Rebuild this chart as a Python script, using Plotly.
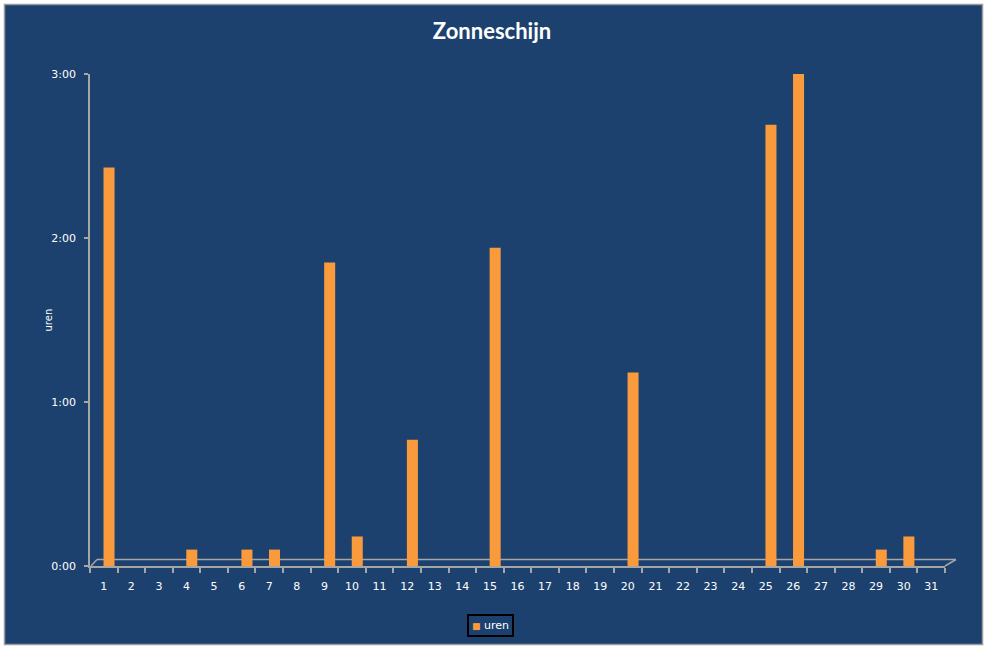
import plotly.graph_objects as go

days = [str(d) for d in range(1, 32)]
hours = [2.43, 0, 0, 0.1, 0, 0.1, 0.1, 0, 1.85, 0.18, 0, 0.77, 0, 0, 1.94,
         0, 0, 0, 0, 1.18, 0, 0, 0, 0, 2.69, 3.02, 0, 0, 0.1, 0.18, 0]
y_ticks = [0, 1, 2, 3]
y_tick_labels = ["0:00", "1:00", "2:00", "3:00"]
series_name = "uren"
title = "Zonneschijn"

BG = "#1c416e"
ORANGE = "#f99a3c"
GRAY = "#a6a6a6"

W, H = 987, 648
L, R, T, B = 90, 42, 74, 82
pw, ph = W - L - R, H - T - B

def px(xp):
    return (xp - L) / pw

def py(yp):
    return (H - B - yp) / ph

bw = 0.4
fig = go.Figure()
fig.add_trace(go.Bar(
    x=days, y=hours, name=series_name,
    width=bw, offset=-bw / 2 + 0.19,
    marker=dict(color=ORANGE, line=dict(width=0)),
    cliponaxis=False, showlegend=False,
))

shapes = [
    # outer chart border
    dict(type="rect", xref="paper", yref="paper", x0=px(4.5), x1=px(982.5),
         y0=py(644.5), y1=py(4.5), fillcolor=BG,
         line=dict(color="#9a9a9a", width=1.5), layer="below"),
    # 3D floor back edge
    dict(type="line", xref="paper", yref="paper", x0=px(97), x1=px(956),
         y0=py(559.5), y1=py(559.5), line=dict(color=GRAY, width=1.5), layer="below"),
    dict(type="line", xref="paper", yref="paper", x0=px(91), x1=px(97),
         y0=py(566), y1=py(559.5), line=dict(color=GRAY, width=1.5), layer="below"),
    dict(type="line", xref="paper", yref="paper", x0=px(945), x1=px(956),
         y0=py(566), y1=py(559.5), line=dict(color=GRAY, width=1.5), layer="below"),
]

annotations = [
    dict(text="uren", textangle=-90, xref="paper", yref="paper",
         x=px(40), y=0.5, showarrow=False,
         font=dict(family="DejaVu Sans", size=10, color="white")),
    # legend box
    dict(text='<span style="color:%s;font-size:9px">■</span> %s' % (ORANGE, series_name),
         xref="paper", yref="paper", x=px(490), y=py(625),
         xanchor="center", yanchor="middle", showarrow=False,
         bordercolor="black", borderwidth=2, borderpad=3,
         font=dict(family="DejaVu Sans", size=11, color="white")),
]

fig.update_layout(
    width=W, height=H,
    margin=dict(l=L, r=R, t=T, b=B, autoexpand=False),
    paper_bgcolor="white",
    plot_bgcolor="rgba(0,0,0,0)",
    shapes=shapes,
    annotations=annotations,
    title=dict(text="<b>" + title + "</b>", x=492 / W, xref="container", xanchor="center",
               y=1 - 31 / H, yanchor="middle",
               font=dict(family="Lato", size=22, color="white")),
    font=dict(family="DejaVu Sans", size=11, color="white"),
    showlegend=False,
)

fig.update_xaxes(
    type="category", range=[-0.5, 30.5],
    showline=True, linecolor=GRAY, linewidth=1.5,
    ticks="outside", tickson="boundaries", ticklen=5, tickcolor=GRAY, tickwidth=1.5,
    showgrid=False, zeroline=False, ticklabelstandoff=9,
    tickfont=dict(family="DejaVu Sans", size=11, color="white"),
)
fig.update_yaxes(
    range=[0, 3], tickvals=y_ticks, ticktext=y_tick_labels,
    showline=True, linecolor=GRAY, linewidth=1.5,
    ticks="outside", ticklen=4, tickcolor=GRAY, tickwidth=1.5,
    showgrid=False, zeroline=False, ticklabelstandoff=6,
    tickfont=dict(family="DejaVu Sans", size=11, color="white"),
)

fig.write_html("out.html")
